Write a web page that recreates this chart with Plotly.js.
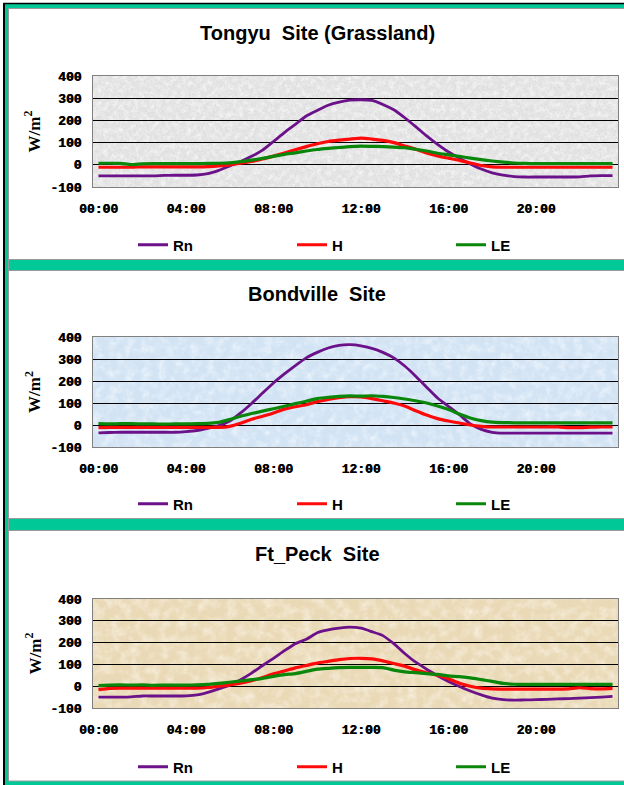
<!DOCTYPE html>
<html>
<head>
<meta charset="utf-8">
<script src="https://cdn.plot.ly/plotly-3.0.1.min.js"></script>
<style>
  html, body { margin: 0; padding: 0; background: #ffffff; overflow: hidden; }
  #chart { width: 624px; height: 785px; }
</style>
</head>
<body>
<div id="chart"></div>
<script>
// Half-hourly time of day (categories on the x axis)
const times = ['00:00','00:30','01:00','01:30','02:00','02:30','03:00','03:30',
  '04:00','04:30','05:00','05:30','06:00','06:30','07:00','07:30',
  '08:00','08:30','09:00','09:30','10:00','10:30','11:00','11:30',
  '12:00','12:30','13:00','13:30','14:00','14:30','15:00','15:30',
  '16:00','16:30','17:00','17:30','18:00','18:30','19:00','19:30',
  '20:00','20:30','21:00','21:30','22:00','22:30','23:00','23:30'];
const timeTicks = ['00:00','04:00','08:00','12:00','16:00','20:00'];
const yTickVals = [-100, 0, 100, 200, 300, 400];
const yTickText = ['-100', '0', '100', '200', '300', '400'];

const seriesNames = ['Rn', 'H', 'LE'];
const siteTitles = ['Tongyu\u00a0 Site (Grassland)', 'Bondville\u00a0 Site', 'Ft_Peck\u00a0 Site'];

// Tongyu (grassland), W/m2
const tongyuRn = [-50,-50,-50,-50,-50,-50,-48,-47,-47,-46,-40,-25,-5,15,38,66,
  105,145,182,220,245,268,282,291,293,290,272,248,212,172,130,92,
  58,30,4,-19,-36,-47,-53,-55,-55,-55,-55,-55,-54,-50,-49,-49];
const tongyuH = [-11,-11,-11,-11,-9,-9,-9,-9,-9,-9,-8,-5,0,7,15,26,
  39,53,68,82,95,105,111,116,120,116,110,100,85,70,53,40,
  30,20,8,-3,-9,-11,-11,-11,-11,-11,-11,-11,-11,-11,-11,-11];
const tongyuLE = [7,7,6,1,4,5,5,5,5,5,6,7,9,14,21,29,
  38,47,54,62,69,74,78,82,84,83,82,80,77,70,62,52,
  45,38,30,23,17,12,8,6,5,5,5,5,5,5,5,5];

// Bondville, W/m2
const bondvilleRn = [-36,-34,-33,-33,-33,-33,-33,-33,-30,-25,-15,-3,18,55,98,145,
  191,232,270,305,330,350,362,365,360,348,330,305,268,222,172,123,
  85,47,5,-20,-33,-37,-37,-37,-37,-37,-37,-37,-37,-37,-37,-37];
const bondvilleH = [-12,-11,-11,-11,-11,-11,-11,-11,-11,-11,-11,-11,-6,8,26,40,
  55,72,83,92,106,116,124,129,128,120,110,100,86,65,45,29,
  18,9,0,-6,-9,-9,-9,-9,-9,-9,-9,-12,-12,-10,-9,-9];
const bondvilleLE = [6,5,6,6,5,5,4,5,5,6,7,12,25,40,52,63,
  74,85,97,108,120,126,130,132,131,133,130,125,118,110,100,86,
  70,50,32,20,13,11,10,10,10,10,10,10,10,10,10,10];

// Ft_Peck, W/m2
const ftPeckRn = [-50,-50,-50,-49,-45,-45,-45,-45,-44,-40,-28,-12,5,30,60,95,
  128,163,195,215,245,258,266,271,266,250,232,195,150,110,78,48,
  22,-1,-22,-40,-55,-62,-64,-63,-62,-60,-58,-57,-55,-52,-50,-47];
const ftPeckH = [-16,-10,-9,-9,-9,-9,-9,-9,-9,-9,-6,0,6,14,25,40,
  57,70,84,95,106,114,122,127,128,125,116,104,92,75,62,50,
  34,14,0,-9,-12,-13,-13,-13,-13,-13,-13,-12,-7,-11,-12,-10];
const ftPeckLE = [3,5,6,5,6,4,5,5,5,6,8,13,18,24,30,36,
  45,53,58,68,78,82,85,86,86,86,85,74,66,62,58,54,
  47,44,38,30,22,13,9,8,8,8,8,8,8,8,8,8];

const sites = [
  [tongyuRn, tongyuH, tongyuLE],
  [bondvilleRn, bondvilleH, bondvilleLE],
  [ftPeckRn, ftPeckH, ftPeckLE]
];

const lineColors = ['#6B1189', '#FF0A0A', '#0A870A'];
const lineWidths = [2.8, 3.2, 3.2];

// ---- page geometry (pixels) ----
const W = 624, H = 785;
const fx = px => px / W;
const fy = py => 1 - py / H;
const plotLeft = 93, plotRight = 618;
const plotTops = [76, 337, 599];
const plotBottoms = [187, 447, 708];
const titleY = [33, 294, 554];
const legendY = [245, 504, 767];

const teal = '#00C896';
const frameGray = '#9A9A9A';

// noise textures for the plot backgrounds
function texture(base, dark, light, freq, seed) {
  const svg =
    '<svg xmlns="http://www.w3.org/2000/svg" width="525" height="110" viewBox="0 0 525 110" preserveAspectRatio="none">' +
    '<filter id="a" x="0" y="0" width="100%" height="100%">' +
    '<feTurbulence type="fractalNoise" baseFrequency="' + freq + '" numOctaves="4" seed="' + seed + '"/>' +
    '<feColorMatrix type="matrix" values="0 0 0 0 ' + dark[0] + ' 0 0 0 0 ' + dark[1] + ' 0 0 0 0 ' + dark[2] + ' 1.6 0 0 0 -0.75"/>' +
    '</filter>' +
    '<filter id="b" x="0" y="0" width="100%" height="100%">' +
    '<feTurbulence type="fractalNoise" baseFrequency="' + (freq * 0.35) + '" numOctaves="3" seed="' + (seed + 7) + '"/>' +
    '<feColorMatrix type="matrix" values="0 0 0 0 ' + light[0] + ' 0 0 0 0 ' + light[1] + ' 0 0 0 0 ' + light[2] + ' 0 1.4 0 0 -0.55"/>' +
    '</filter>' +
    '<rect width="525" height="110" fill="' + base + '"/>' +
    '<rect width="525" height="110" filter="url(#b)"/>' +
    '<rect width="525" height="110" filter="url(#a)"/>' +
    '</svg>';
  return 'data:image/svg+xml;charset=utf-8,' + encodeURIComponent(svg);
}
const textures = [
  texture('#E4E4E4', [0.66, 0.66, 0.66], [1, 1, 1], 0.55, 3),
  texture('#D2E3F4', [0.64, 0.76, 0.88], [0.93, 0.97, 1], 0.35, 11),
  texture('#EAD9B5', [0.80, 0.70, 0.52], [0.97, 0.93, 0.84], 0.30, 21)
];

const tickFont = { family: 'Liberation Mono, Courier New, monospace', size: 13, color: '#000',
  weight: 'bold', shadow: '0.6px 0 0 #000' };
const legendFont = { family: 'Liberation Sans, Arial, sans-serif', size: 15, color: '#000', weight: 'bold' };
const titleFont = { family: 'Liberation Sans, Arial, sans-serif', size: 20, color: '#000', weight: 'bold' };
const unitFont = { family: 'Liberation Serif, Times New Roman, serif', size: 17, color: '#000', weight: 'bold' };

const traces = [];
const layout = {
  width: W, height: H,
  margin: { l: 0, r: 0, t: 0, b: 0, autoexpand: false },
  paper_bgcolor: '#ffffff',
  plot_bgcolor: 'rgba(0,0,0,0)',
  showlegend: true,
  annotations: [],
  images: [],
  shapes: []
};

sites.forEach((series, i) => {
  const n = i + 1;
  const xName = n === 1 ? 'x' : 'x' + n;
  const yName = n === 1 ? 'y' : 'y' + n;
  const legName = n === 1 ? 'legend' : 'legend' + n;
  const y0 = fy(plotBottoms[i]), y1 = fy(plotTops[i]);

  series.forEach((vals, k) => {
    traces.push({
      type: 'scatter', mode: 'lines',
      x: times, y: vals,
      name: seriesNames[k],
      xaxis: xName, yaxis: yName, legend: legName,
      line: { color: lineColors[k], width: lineWidths[k], shape: 'spline', smoothing: 0.6 },
      hoverinfo: 'skip'
    });
  });

  layout['xaxis' + (n === 1 ? '' : n)] = {
    domain: [fx(plotLeft), fx(plotRight)], anchor: yName,
    type: 'category', range: [-0.5, times.length - 0.5],
    tickmode: 'array', tickvals: timeTicks, ticktext: timeTicks,
    ticks: '', ticklabelstandoff: 9, tickfont: tickFont,
    showline: true, mirror: true, linecolor: '#808080', linewidth: 1,
    showgrid: false, zeroline: false, fixedrange: true, automargin: false
  };
  // axis drawn along y = 0 with a tick between every half-hour category
  layout['xaxis' + (n + 3)] = {
    overlaying: xName, anchor: 'free', position: y0 + 0.2 * (y1 - y0),
    type: 'linear', range: [-0.5, times.length - 0.5],
    tick0: -0.5, dtick: 1, ticks: 'inside', ticklen: 4, tickwidth: 1, tickcolor: '#000',
    showticklabels: false, showline: true, linecolor: '#000', linewidth: 1,
    showgrid: false, zeroline: false, fixedrange: true, automargin: false
  };
  layout['yaxis' + (n === 1 ? '' : n)] = {
    domain: [y0, y1], anchor: xName,
    range: [-100, 400], tickmode: 'array', tickvals: yTickVals, ticktext: yTickText,
    ticks: '', ticklabelstandoff: 8, tickfont: tickFont,
    showgrid: true, gridcolor: '#000', gridwidth: 1,
    showline: true, mirror: true, linecolor: '#808080', linewidth: 1,
    zeroline: false, fixedrange: true, automargin: false
  };
  layout[legName] = {
    orientation: 'h', x: fx(133), y: fy(legendY[i]), xanchor: 'left', yanchor: 'middle',
    entrywidth: 114, entrywidthmode: 'pixels', itemwidth: 30,
    font: legendFont, bgcolor: 'rgba(0,0,0,0)', borderwidth: 0,
    itemclick: false, itemdoubleclick: false
  };
  layout.images.push({
    source: textures[i], xref: xName + ' domain', yref: yName + ' domain',
    x: 0, y: 1, sizex: 1, sizey: 1, xanchor: 'left', yanchor: 'top',
    sizing: 'stretch', layer: 'below'
  });
  layout.annotations.push({
    text: siteTitles[i], xref: 'paper', yref: 'paper',
    x: fx(317), y: fy(titleY[i]), xanchor: 'center', yanchor: 'middle',
    showarrow: false, font: titleFont
  });
  layout.annotations.push({
    text: 'W/m<sup>2</sup>', xref: 'paper', yref: 'paper', textangle: -90,
    x: fx(33), y: fy((plotTops[i] + plotBottoms[i]) / 2), xanchor: 'center', yanchor: 'middle',
    showarrow: false, font: unitFont
  });
});

// ---- teal frame between and around the three panels ----
function band(x0, y0, x1, y1, color) {
  return { type: 'rect', xref: 'paper', yref: 'paper', layer: 'below',
    x0: fx(x0), x1: fx(x1), y0: fy(y0), y1: fy(y1),
    fillcolor: color, line: { width: 0 } };
}
function hline(x0, x1, y, color, w) {
  return { type: 'line', xref: 'paper', yref: 'paper', layer: 'below',
    x0: fx(x0), x1: fx(x1), y0: fy(y), y1: fy(y), line: { color: color, width: w } };
}
function vline(x, y0, y1, color, w) {
  return { type: 'line', xref: 'paper', yref: 'paper', layer: 'below',
    x0: fx(x), x1: fx(x), y0: fy(y0), y1: fy(y1), line: { color: color, width: w } };
}
layout.shapes.push(
  band(5, 4, W, 8.5, teal),
  band(5, 4, 8.5, H, teal),
  band(5, 259.5, W, 270.5, teal),
  band(5, 518, W, 530.5, teal),
  band(5, 781, W, H, teal),
  hline(8.5, W, 8.5, frameGray, 1),
  hline(8.5, W, 259.5, frameGray, 1),
  hline(8.5, W, 270.5, frameGray, 1),
  hline(8.5, W, 518.5, frameGray, 1),
  hline(8.5, W, 530.5, frameGray, 1),
  hline(8.5, W, 781, frameGray, 1),
  vline(8.5, 8.5, 781, frameGray, 1),
  hline(3.5, W, 3.5, '#000', 1.5),
  vline(4, 3, H, '#000', 2)
);

Plotly.newPlot('chart', traces, layout, { displayModeBar: false, staticPlot: true });
</script>
</body>
</html>
